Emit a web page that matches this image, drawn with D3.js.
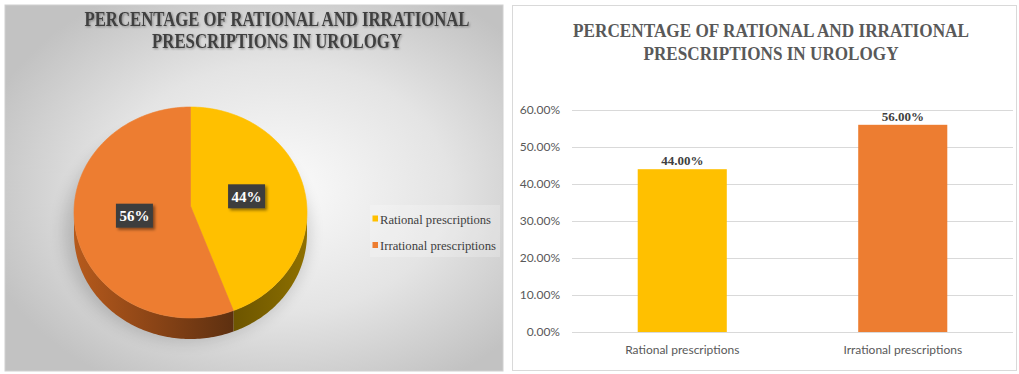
<!DOCTYPE html>
<html>
<head>
<meta charset="utf-8">
<script src="https://cdn.jsdelivr.net/npm/d3@7"></script>
<style>
  html, body { margin: 0; padding: 0; background: #ffffff; }
  svg { display: block; }
  .serif { font-family: "Liberation Serif", "DejaVu Serif", "Noto Serif", "Times New Roman", serif; }
  .sans { font-family: "Lato", "Open Sans", sans-serif; }
</style>
</head>
<body>
<svg id="chart" width="1019" height="374"></svg>
<script>
// Prescription audit figures (percent of prescriptions)
const categories = ["Rational prescriptions", "Irrational prescriptions"];
const percentages = [44, 56];
const yTicks = [0, 10, 20, 30, 40, 50, 60];
const sliceColors = ["#ffc000", "#ed7d31"];
const titleLines = ["PERCENTAGE OF RATIONAL AND IRRATIONAL", "PRESCRIPTIONS IN UROLOGY"];

const svg = d3.select("#chart");
const defs = svg.append("defs");

// ---------- shared defs ----------
const bg = defs.append("radialGradient").attr("id", "pieBg")
  .attr("cx", "0.55").attr("cy", "0.5").attr("r", "0.62");
bg.append("stop").attr("offset", "0").attr("stop-color", "#fbfbfb");
bg.append("stop").attr("offset", "0.55").attr("stop-color", "#e4e4e4");
bg.append("stop").attr("offset", "1").attr("stop-color", "#c2c2c2");

const sideOrange = defs.append("linearGradient").attr("id", "sideOrange")
  .attr("gradientUnits", "userSpaceOnUse").attr("x1", 74).attr("x2", 236).attr("y1", 0).attr("y2", 0);
sideOrange.append("stop").attr("offset", "0").attr("stop-color", "#b65a1c");
sideOrange.append("stop").attr("offset", "0.5").attr("stop-color", "#8a4416");
sideOrange.append("stop").attr("offset", "1").attr("stop-color", "#5c2f10");

const sideYellow = defs.append("linearGradient").attr("id", "sideYellow")
  .attr("gradientUnits", "userSpaceOnUse").attr("x1", 236).attr("x2", 307).attr("y1", 0).attr("y2", 0);
sideYellow.append("stop").attr("offset", "0").attr("stop-color", "#6e5600");
sideYellow.append("stop").attr("offset", "0.6").attr("stop-color", "#806500");
sideYellow.append("stop").attr("offset", "1").attr("stop-color", "#8f7000");

const softShadow = defs.append("filter").attr("id", "softShadow")
  .attr("x", "-30%").attr("y", "-30%").attr("width", "160%").attr("height", "160%");
softShadow.append("feGaussianBlur").attr("stdDeviation", 8);

const boxShadow = defs.append("filter").attr("id", "boxShadow")
  .attr("x", "-30%").attr("y", "-30%").attr("width", "170%").attr("height", "170%");
boxShadow.append("feDropShadow").attr("dx", 2).attr("dy", 2).attr("stdDeviation", 1.5)
  .attr("flood-color", "#000").attr("flood-opacity", 0.45);

const textShadow = defs.append("filter").attr("id", "textShadow")
  .attr("x", "-10%").attr("y", "-30%").attr("width", "120%").attr("height", "160%");
textShadow.append("feDropShadow").attr("dx", 1).attr("dy", 1).attr("stdDeviation", 0.8)
  .attr("flood-color", "#000").attr("flood-opacity", 0.35);

function drawTitle(g, cx, baselines, widths, size, color, filter) {
  titleLines.forEach((line, i) => {
    const t = g.append("text")
      .attr("class", "serif")
      .attr("x", cx).attr("y", baselines[i])
      .attr("text-anchor", "middle")
      .attr("font-weight", "bold")
      .attr("font-size", size)
      .attr("fill", color)
      .attr("textLength", widths[i])
      .attr("lengthAdjust", "spacingAndGlyphs")
      .text(line);
    if (filter) t.attr("filter", filter);
  });
}

// ---------- left panel: 3D-style pie ----------
const left = svg.append("g");
left.append("rect").attr("x", 5).attr("y", 5).attr("width", 498).attr("height", 366)
  .attr("fill", "url(#pieBg)").attr("stroke", "#d0d0d0").attr("stroke-width", 1);

drawTitle(left, 277, [26, 48], [385, 250], 20, "#3f3f3f", "url(#textShadow)");

const pie = d3.pie().sort(null).value(d => d);
const arcs = pie(percentages);

const rim = { cx: 190.5, cy: 212.5, rx: 116.5, ry: 105.5 };
const hub = { x: 190.5, y: 206 };
const depth = 21;
const rimPoint = (a, dy = 0) => [rim.cx + rim.rx * Math.sin(a), rim.cy - rim.ry * Math.cos(a) + dy];

function rimPoints(a0, a1, dy) {
  const n = Math.max(2, Math.ceil(Math.abs(a1 - a0) / 0.02));
  return d3.range(n + 1).map(i => rimPoint(a0 + (a1 - a0) * i / n, dy));
}

// soft shadow under the pie
left.append("ellipse")
  .attr("cx", rim.cx - 4).attr("cy", rim.cy + depth - 2)
  .attr("rx", rim.rx + 6).attr("ry", rim.ry + 4)
  .attr("fill", "#000").attr("opacity", 0.16)
  .attr("filter", "url(#softShadow)");

// side walls on the front half of the rim
const sideFills = ["url(#sideYellow)", "url(#sideOrange)"];
arcs.forEach((d, i) => {
  const a0 = Math.max(d.startAngle, Math.PI / 2);
  const a1 = Math.min(d.endAngle, 3 * Math.PI / 2);
  if (a1 <= a0) return;
  const top = rimPoints(a0, a1, 0);
  const bottom = rimPoints(a1, a0, depth);
  left.append("path")
    .attr("d", d3.line()(top.concat(bottom)) + "Z")
    .attr("fill", sideFills[i]);
});

// top faces
arcs.forEach((d, i) => {
  const pts = [[hub.x, hub.y]].concat(rimPoints(d.startAngle, d.endAngle, 0));
  left.append("path")
    .attr("d", d3.line()(pts) + "Z")
    .attr("fill", sliceColors[i])
    .attr("stroke", sliceColors[i]).attr("stroke-width", 0.6);
});

// data labels in dark boxes
arcs.forEach((d, i) => {
  const mid = (d.startAngle + d.endAngle) / 2;
  const lx = hub.x + 0.49 * rim.rx * Math.sin(mid);
  const ly = hub.y - 0.49 * rim.ry * Math.cos(mid);
  const g = left.append("g").attr("transform", `translate(${lx},${ly})`);
  g.append("rect").attr("x", -18.5).attr("y", -12).attr("width", 37).attr("height", 24)
    .attr("fill", "#3d3d3d").attr("filter", "url(#boxShadow)");
  g.append("text").attr("class", "serif").attr("y", 5.5).attr("text-anchor", "middle")
    .attr("font-weight", "bold").attr("font-size", 15).attr("fill", "#ffffff")
    .text(d.data + "%");
});

// legend
const legend = left.append("g");
legend.append("rect").attr("x", 370).attr("y", 205).attr("width", 130).attr("height", 52)
  .attr("fill", "#ffffff").attr("opacity", 0.22);
categories.forEach((c, i) => {
  const y = 219 + i * 26.5;
  legend.append("rect").attr("x", 372.5).attr("y", y - 3.5).attr("width", 5.5).attr("height", 6)
    .attr("fill", sliceColors[i]);
  legend.append("text").attr("class", "serif").attr("x", 380).attr("y", y + 4.5)
    .attr("font-size", 13.5).attr("fill", "#404040")
    .attr("textLength", i === 0 ? 111 : 116).attr("lengthAdjust", "spacingAndGlyphs")
    .text(c);
});

// ---------- right panel: bar chart ----------
const right = svg.append("g");
right.append("rect").attr("x", 512.5).attr("y", 5.5).attr("width", 504).attr("height", 365)
  .attr("fill", "#ffffff").attr("stroke", "#d9d9d9").attr("stroke-width", 1);

drawTitle(right, 771, [37, 60], [396, 255], 19, "#595959", null);

const plot = { left: 572, right: 1013, top: 110, bottom: 332 };
const x = d3.scaleBand().domain(categories).range([plot.left, plot.right])
  .paddingInner(0.596).paddingOuter(0.298);
const y = d3.scaleLinear().domain([0, 60]).range([plot.bottom, plot.top]);

// gridlines
right.append("g").selectAll("line").data(yTicks).join("line")
  .attr("x1", plot.left).attr("x2", plot.right)
  .attr("y1", d => Math.round(y(d)) + 0.5).attr("y2", d => Math.round(y(d)) + 0.5)
  .attr("stroke", "#d9d9d9").attr("stroke-width", 1.2);

// y axis labels
const yAxis = d3.axisLeft(y).tickValues(yTicks).tickSize(0).tickPadding(0)
  .tickFormat(d => d.toFixed(2) + "%");
const yg = right.append("g").attr("transform", `translate(560,0)`).call(yAxis);
yg.select(".domain").remove();
yg.selectAll("text").attr("class", "sans").attr("font-family", null)
  .attr("font-size", 12).attr("fill", "#595959");
yg.attr("font-family", null);

// x axis labels
const xAxis = d3.axisBottom(x).tickSize(0).tickPadding(0);
const xg = right.append("g").attr("transform", `translate(0,${plot.bottom + 13})`).call(xAxis);
xg.select(".domain").remove();
xg.selectAll("text").attr("class", "sans")
  .attr("font-size", 12).attr("fill", "#595959");
xg.attr("font-family", null);

// bars
right.append("g").selectAll("rect").data(percentages).join("rect")
  .attr("x", (d, i) => x(categories[i]))
  .attr("width", x.bandwidth())
  .attr("y", d => y(d))
  .attr("height", d => y(0) - y(d))
  .attr("fill", (d, i) => sliceColors[i]);

// value labels
right.append("g").selectAll("text").data(percentages).join("text")
  .attr("class", "serif")
  .attr("x", (d, i) => x(categories[i]) + x.bandwidth() / 2)
  .attr("y", d => y(d) - 4)
  .attr("text-anchor", "middle")
  .attr("font-weight", "bold").attr("font-size", 13).attr("fill", "#404040")
  .text(d => d.toFixed(2) + "%");
</script>
</body>
</html>
